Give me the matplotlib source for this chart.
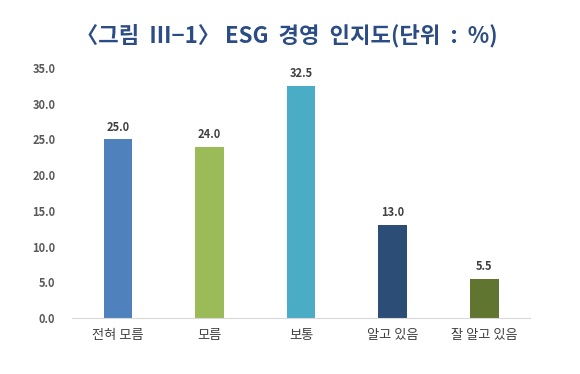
import matplotlib
matplotlib.use("Agg")
import matplotlib.pyplot as plt

plt.rcParams['font.family'] = ['Noto Sans CJK KR', 'DejaVu Sans']

categories = ["전혀 모름", "모름", "보통", "알고 있음", "잘 알고 있음"]
values = [25.0, 24.0, 32.5, 13.0, 5.5]
colors = ["#4F81BD", "#9BBB59", "#4BACC6", "#2C4D75", "#5F7530"]
yticks = [0, 5, 10, 15, 20, 25, 30, 35]

fig = plt.figure(figsize=(5.8, 3.74), dpi=100)
ax = fig.add_axes([0.124, 0.150, 0.790, 0.668])
x = range(len(categories))
bars = ax.bar(x, values, width=0.31, color=colors)
for xi, v in zip(x, values):
    ax.text(xi, v + 0.8, f"{v:.1f}", ha='center', va='bottom', fontsize=8,
            fontweight='bold', color='#404040')
ax.set_xlim(-0.5, len(categories) - 0.5)
ax.set_ylim(0, 35)
ax.set_yticks(yticks)
ax.set_yticklabels([f"{t:.1f}" for t in yticks], fontsize=8, color='#595959', fontweight='bold')
ax.set_xticks(list(x))
ax.set_xticklabels(categories, fontsize=9.5, color='#404040')
for s in ['top', 'right', 'left']:
    ax.spines[s].set_visible(False)
ax.spines['bottom'].set_color('#D9D9D9')
ax.tick_params(axis='both', length=0)
ax.tick_params(axis='y', pad=12)
ax.tick_params(axis='x', pad=8)

fig.text(0.495, 0.906, "〈그림  Ⅲ−1〉 ESG  경영  인지도(단위  :  %)", ha='center', va='center',
         fontsize=16, fontweight='bold', color='#2B4C84')

fig.savefig("out.png", dpi=100)
